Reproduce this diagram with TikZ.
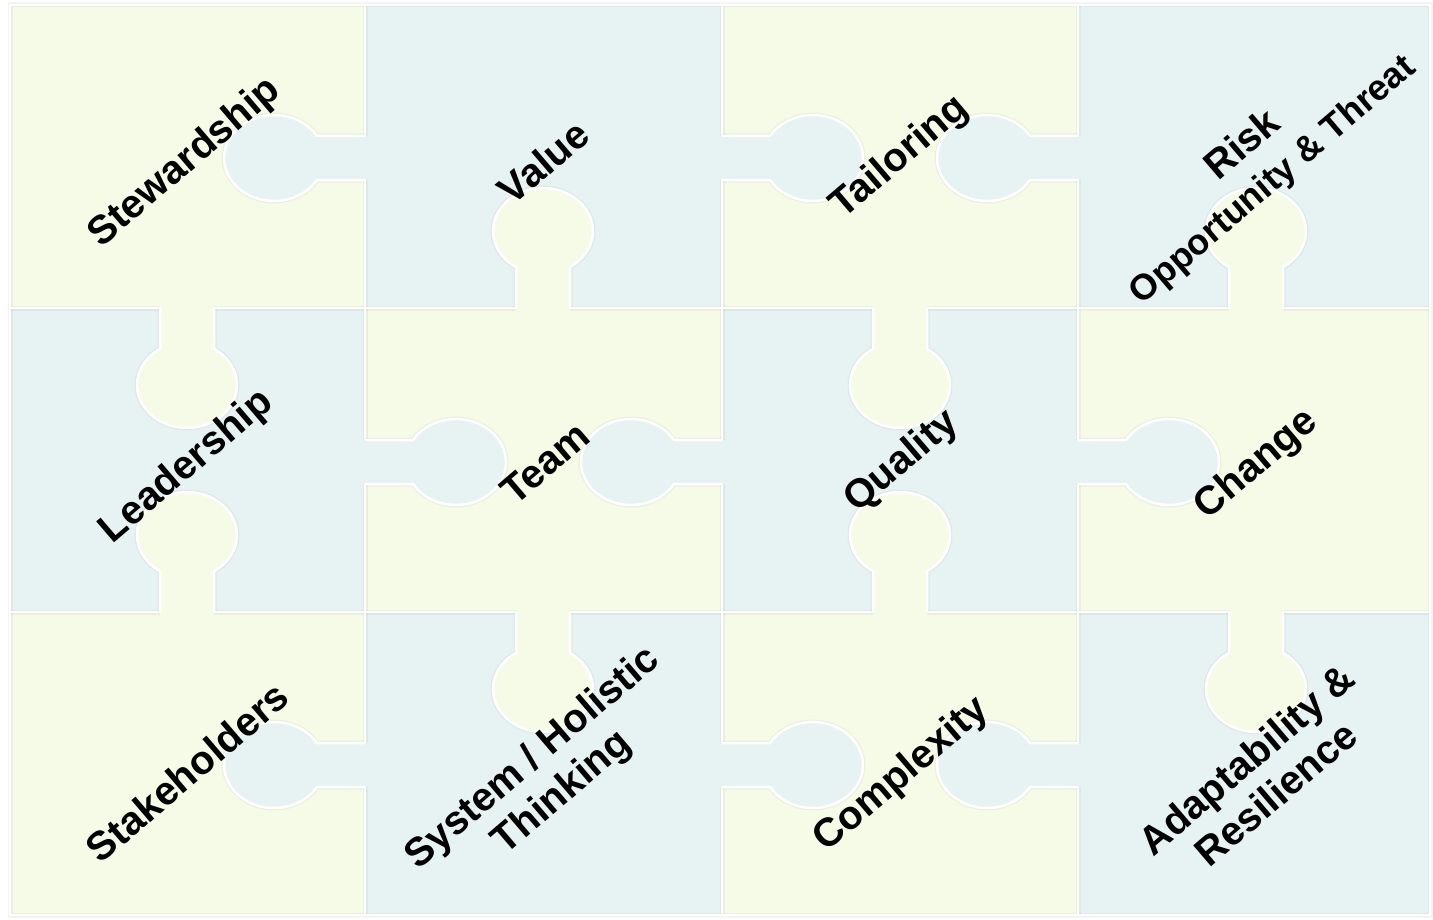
\documentclass[tikz,border=0pt]{standalone}
\usepackage{fontspec}
\setmainfont{Liberation Sans}

\definecolor{pzyellow}{RGB}{246,251,232}
\definecolor{pzblue}{RGB}{231,243,242}

\tikzset{
  edgeshade/.style={draw=black, draw opacity=0.045, line width=5pt},
  edgelight/.style={draw=white, line width=2.5pt},
  lbl/.style={font=\bfseries\fontsize{40}{45}\selectfont, rotate=40.5,
    align=center, inner sep=0pt},
  % blue knob, pointing to +x from the cut line
  hknob/.pic={
    \draw[edgeshade] (0,-22) -- (48,-22)
      arc[start angle=-149.2, end angle=149.2, x radius=50, y radius=43] -- (0,22);
    \fill[pzblue] (-4,-22) -- (48,-22)
      arc[start angle=-149.2, end angle=149.2, x radius=50, y radius=43] -- (-4,22) -- cycle;
    \draw[edgelight] (0,-22) -- (48,-22)
      arc[start angle=-149.2, end angle=149.2, x radius=50, y radius=43] -- (0,22);
  },
  % yellow knob, pointing down from the cut line
  vknob/.pic={
    \draw[edgeshade] (-27,0) -- (-27,40.8)
      arc[start angle=237.3, end angle=-57.3, x radius=50, y radius=43] -- (27,0);
    \fill[pzyellow] (-27,-4) -- (-27,40.8)
      arc[start angle=237.3, end angle=-57.3, x radius=50, y radius=43] -- (27,-4) -- cycle;
    \draw[edgelight] (-27,0) -- (-27,40.8)
      arc[start angle=237.3, end angle=-57.3, x radius=50, y radius=43] -- (27,0);
  }
}

\begin{document}
\begin{tikzpicture}[x=1pt, y=-1pt]
  \useasboundingbox (0,0) rectangle (1433,920);

  % pieces
  \fill[pzyellow] (10,5) rectangle (365,308);
  \fill[pzblue] (365,5) rectangle (722,308);
  \fill[pzyellow] (722,5) rectangle (1078,308);
  \fill[pzblue] (1078,5) rectangle (1430,308);
  \fill[pzblue] (10,308) rectangle (365,612);
  \fill[pzyellow] (365,308) rectangle (722,612);
  \fill[pzblue] (722,308) rectangle (1078,612);
  \fill[pzyellow] (1078,308) rectangle (1430,612);
  \fill[pzyellow] (10,612) rectangle (365,915);
  \fill[pzblue] (365,612) rectangle (722,915);
  \fill[pzyellow] (722,612) rectangle (1078,915);
  \fill[pzblue] (1078,612) rectangle (1430,915);

  \draw[edgeshade] (10,5) rectangle (1430,915);
  \draw[edgeshade] (365,5) -- (365,915) (722,5) -- (722,915) (1078,5) -- (1078,915);
  \draw[edgeshade] (10,308) -- (1430,308) (10,612) -- (1430,612);
  \draw[edgelight] (10,5) rectangle (1430,915);
  \draw[edgelight] (365,5) -- (365,915) (722,5) -- (722,915) (1078,5) -- (1078,915);
  \draw[edgelight] (10,308) -- (1430,308) (10,612) -- (1430,612);

  % knobs across the columns
  \pic[xscale=-1] at (365,158) {hknob};
  \pic at (722,158) {hknob};
  \pic[xscale=-1] at (1078,158) {hknob};
  \pic at (365,462) {hknob};
  \pic[xscale=-1] at (722,462) {hknob};
  \pic at (1078,462) {hknob};
  \pic[xscale=-1] at (365,765) {hknob};
  \pic at (722,765) {hknob};
  \pic[xscale=-1] at (1078,765) {hknob};

  % knobs across the rows
  \pic at (187,308) {vknob};
  \pic[yscale=-1] at (543,308) {vknob};
  \pic at (900,308) {vknob};
  \pic[yscale=-1] at (1256,308) {vknob};
  \pic[yscale=-1] at (187,612) {vknob};
  \pic at (543,612) {vknob};
  \pic[yscale=-1] at (900,612) {vknob};
  \pic at (1256,612) {vknob};

  % labels
  \node[lbl] (stew) at (185,163) {Stewardship};
  \node[lbl] (value) at (543,162) {Value};
  \node[lbl] (tail) at (900,158) {Tailoring};
  \node[lbl] (risk) at (1258,163) {Risk\\{\fontsize{36}{40}\selectfont Opportunity \& Threat}};
  \node[lbl] (lead) at (187,467) {Leadership};
  \node[lbl] (team) at (545,463) {Team};
  \node[lbl] (qual) at (902,462) {Quality};
  \node[lbl] (change) at (1257,465) {Change};
  \node[lbl] (stake) at (187,772) {Stakeholders};
  \node[lbl] (system) at (548,776) {System / Holistic\\Thinking};
  \node[lbl] (compl) at (902,775) {Complexity};
  \node[lbl] (adapt) at (1261,776) {Adaptability \&\\Resilience};
\end{tikzpicture}
\end{document}
